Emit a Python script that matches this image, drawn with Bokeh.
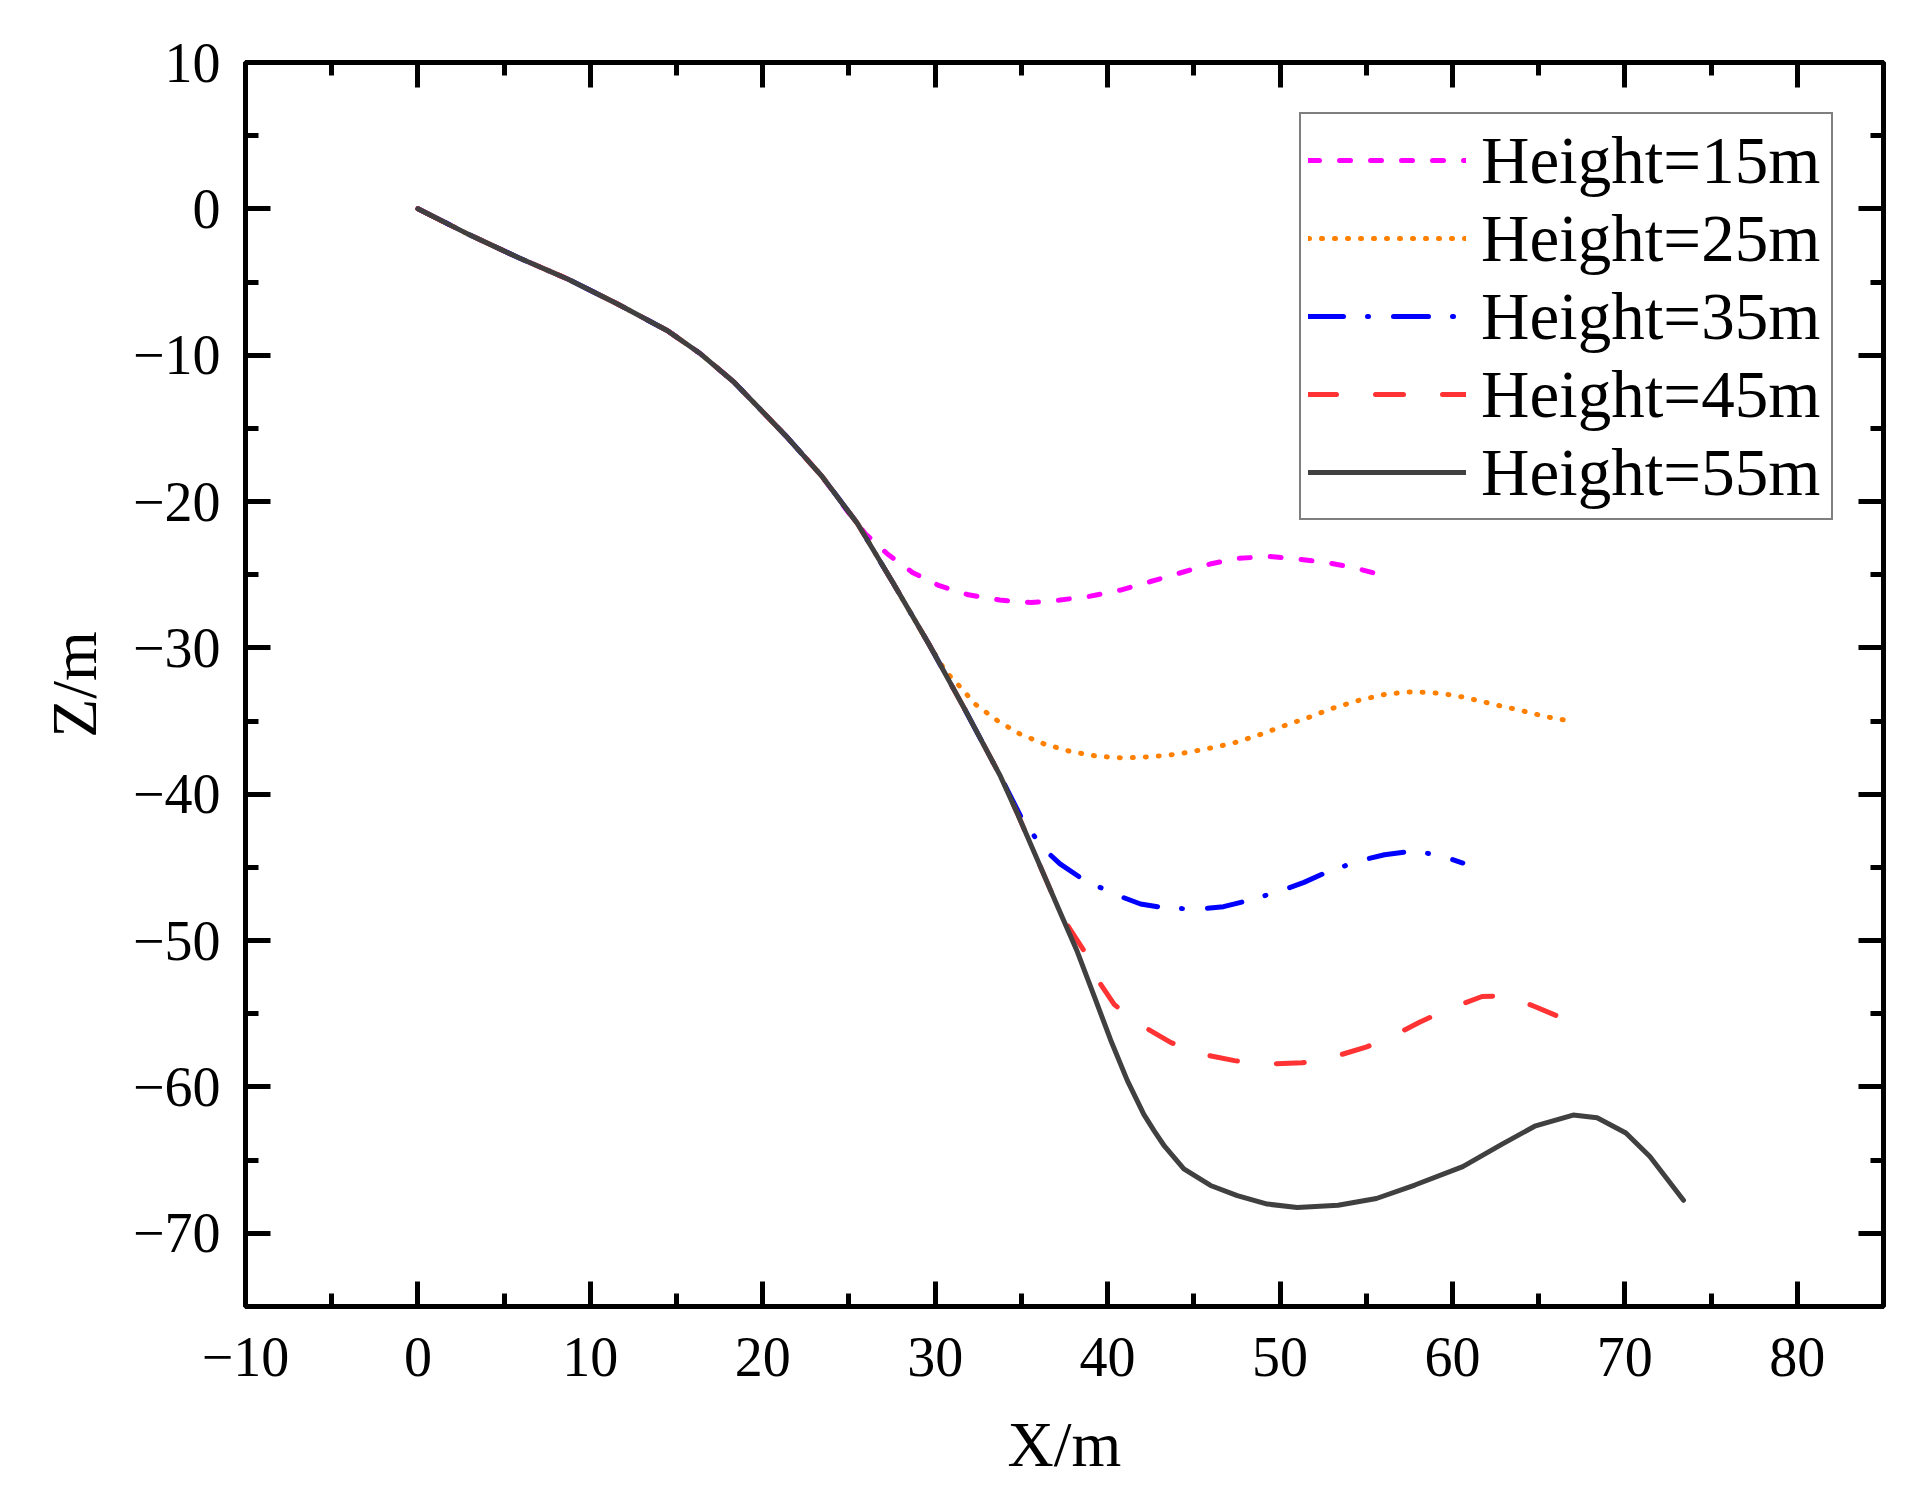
from bokeh.plotting import figure
from bokeh.models import (Range1d, FixedTicker, LinearAxis, Legend, LegendItem,
                          CustomLabelingPolicy)
from bokeh.embed import file_html
from bokeh.resources import INLINE

# ---------------- data ----------------
x_15 = [0, 2.88, 5.78, 8.68, 11.58, 14.48, 16.41, 18.35, 21.33, 23.41, 25.0, 25.95, 27.25, 28.68,
        30.24, 31.92, 33.74, 35.56, 37.24, 38.93, 40.75, 42.44, 44.12, 45.94, 47.5, 49.32,
        51.0, 52.69, 54.24, 55.67]
z_15 = [0, -1.71, -3.31, -4.79, -6.5, -8.33, -9.92, -11.86, -15.5, -18.24, -20.8, -22.2, -23.6, -24.84,
        -25.75, -26.37, -26.73, -26.9, -26.73, -26.48, -26.05, -25.48, -24.91, -24.27, -23.89, -23.75,
        -23.93, -24.16, -24.5, -24.95]

x_25 = [0, 2.88, 5.78, 8.68, 11.58, 14.48, 16.41, 18.35, 21.33, 23.41, 25.49, 27.56, 29.64, 30.6,
        31.4, 32.31, 33.61, 34.91, 36.34, 37.89, 39.45, 41.0, 42.56, 44.12, 45.68, 47.24, 48.66,
        50.09, 51.65, 53.08, 54.63, 56.19, 57.75, 59.3, 60.73, 62.29, 63.85, 65.41, 66.6]
z_25 = [0, -1.71, -3.31, -4.79, -6.5, -8.33, -9.92, -11.86, -15.5, -18.24, -21.5, -25.57, -29.75, -31.6,
        -32.6, -33.83, -34.97, -35.88, -36.57, -37.09, -37.41, -37.52, -37.43, -37.25, -36.91, -36.52, -36.0,
        -35.38, -34.75, -34.11, -33.56, -33.15, -32.99, -33.1, -33.38, -33.83, -34.24, -34.7, -34.95]

x_35 = [0, 2.88, 5.78, 8.68, 11.58, 14.48, 16.41, 18.35, 21.33, 23.41, 25.49, 27.56, 29.64, 31.72,
        33.79, 35.0, 36.2, 37.24, 38.54, 40.36, 41.91, 43.47, 45.29, 46.72, 48.14, 49.96, 51.39,
        52.69, 54.63, 56.06, 57.62, 59.18, 60.6]
z_35 = [0, -1.71, -3.31, -4.79, -6.5, -8.33, -9.92, -11.86, -15.5, -18.24, -21.5, -25.57, -29.75, -34.2,
        -38.78, -41.6, -43.62, -44.76, -45.79, -46.81, -47.5, -47.79, -47.84, -47.68, -47.27, -46.63, -46.02,
        -45.33, -44.54, -44.13, -43.9, -44.13, -44.7]

x_45 = [0, 2.88, 5.78, 8.68, 11.58, 14.48, 16.41, 18.35, 21.33, 23.41, 25.49, 27.56, 29.64, 31.72,
        33.79, 34.78, 37.37, 38.74, 39.32, 40.39, 41.74, 43.68, 45.33, 47.36, 49.3, 51.28, 53.09,
        55.03, 56.7, 58.09, 59.77, 61.72, 63.1, 64.77, 66.02]
z_45 = [0, -1.71, -3.31, -4.79, -6.5, -8.33, -9.92, -11.86, -15.5, -18.24, -21.5, -25.57, -29.75, -34.2,
        -38.78, -41.35, -48.4, -50.9, -52.5, -54.37, -55.64, -56.97, -57.73, -58.2, -58.43, -58.35, -57.95,
        -57.26, -56.42, -55.58, -54.67, -53.82, -53.76, -54.5, -55.12]

x_55 = [0, 2.88, 5.78, 8.68, 11.58, 14.48, 16.41, 18.35, 21.33, 23.41, 25.49, 27.56, 29.64, 31.72,
        33.79, 34.78, 37.37, 38.24, 39.21, 40.17, 41.14, 42.1, 42.7, 43.3, 44.42, 45.97, 47.52, 49.26,
        51.0, 53.37, 55.59, 57.82, 60.6, 62.83, 64.77, 67.0, 68.39, 70.06, 71.45, 73.4]
z_55 = [0, -1.71, -3.31, -4.79, -6.5, -8.33, -9.92, -11.86, -15.5, -18.24, -21.5, -25.57, -29.75, -34.2,
        -38.78, -41.35, -48.4, -50.75, -53.76, -56.77, -59.55, -61.87, -63.0, -64.05, -65.6, -66.73, -67.42, -68.0,
        -68.24, -68.08, -67.62, -66.7, -65.44, -63.94, -62.68, -61.92, -62.1, -63.14, -64.75, -67.74]

labels = ["Height=15m", "Height=25m", "Height=35m", "Height=45m", "Height=55m"]
x_ticks = [-10, 0, 10, 20, 30, 40, 50, 60, 70, 80]
x_minor = [-5, 5, 15, 25, 35, 45, 55, 65, 75]
y_ticks = [-70, -60, -50, -40, -30, -20, -10, 0, 10]
y_minor = [-75, -65, -55, -45, -35, -25, -15, -5, 5]

# ---------------- styling ----------------
FONT = "Liberation Serif"
colors = ["#FF00FF", "#FF8000", "#0000FF", "#FF3333", "#404040"]
dashes = ["11 20", "1 12", "35 24 1 25", "28 39", "solid"]

def fmt(t):
    return ("\u2212" + str(-t)) if t < 0 else str(t)

p = figure(frame_width=1638, frame_height=1244,
           x_range=Range1d(-10, 85), y_range=Range1d(-75, 10),
           output_backend="svg", toolbar_location=None,
           min_border_left=245, min_border_right=23, min_border_top=62, min_border_bottom=179)
p.background_fill_color = "white"
p.border_fill_color = "white"
p.xgrid.visible = False
p.ygrid.visible = False
p.outline_line_color = "black"
p.outline_line_width = 5

xt = FixedTicker(ticks=x_ticks, minor_ticks=x_minor)
yt = FixedTicker(ticks=y_ticks, minor_ticks=y_minor)

def style_axis(ax, ticker, ticks, show_labels):
    ax.ticker = ticker
    ax.axis_line_color = None
    ax.major_tick_in = 25
    ax.major_tick_out = 0
    ax.minor_tick_in = 13
    ax.minor_tick_out = 0
    ax.major_tick_line_width = 5
    ax.minor_tick_line_width = 5
    ax.major_tick_line_color = "black"
    ax.minor_tick_line_color = "black"
    if show_labels:
        ax.major_label_text_font = FONT
        ax.major_label_text_font_size = "56px"
        ax.major_label_text_color = "black"
        ax.major_label_overrides = {t: fmt(t) for t in ticks}
        ax.axis_label_text_font = FONT
        ax.axis_label_text_font_size = "64px"
        ax.axis_label_text_font_style = "normal"
        ax.axis_label_text_color = "black"
    else:
        ax.major_label_policy = CustomLabelingPolicy(code="return []")
        ax.major_label_text_font_size = "1px"
        ax.major_label_standoff = 0

style_axis(p.xaxis[0], xt, x_ticks, True)
style_axis(p.yaxis[0], yt, y_ticks, True)
p.xaxis[0].axis_label = "X/m"
p.yaxis[0].axis_label = "Z/m"
p.xaxis[0].major_label_standoff = 31
p.yaxis[0].major_label_standoff = 25
p.xaxis[0].axis_label_standoff = 30
p.yaxis[0].axis_label_standoff = 20

top_ax = LinearAxis()
right_ax = LinearAxis()
style_axis(top_ax, xt, x_ticks, False)
style_axis(right_ax, yt, y_ticks, False)
p.add_layout(top_ax, "above")
p.add_layout(right_ax, "right")

xs = [x_15, x_25, x_35, x_45, x_55]
zs = [z_15, z_25, z_35, z_45, z_55]
items = []
for xv, zv, c, d, lab in zip(xs, zs, colors, dashes, labels):
    r = p.line(xv, zv, line_color=c, line_width=5, line_dash=d, line_cap="round", line_join="round")
    items.append(LegendItem(label=lab, renderers=[r]))

legend = Legend(items=items, location="top_right")
legend.margin = 50
legend.padding = 7
legend.spacing = 0
legend.glyph_width = 158
legend.glyph_height = 78
legend.label_height = 78
legend.label_width = 343
legend.label_standoff = 15
legend.label_text_font = FONT
legend.label_text_font_size = "67px"
legend.label_text_color = "black"
legend.label_text_baseline = "middle"
legend.border_line_color = "black"
legend.border_line_width = 2
legend.background_fill_color = "white"
legend.background_fill_alpha = 1.0
p.add_layout(legend)

open("out.html", "w").write(file_html(p, INLINE))
